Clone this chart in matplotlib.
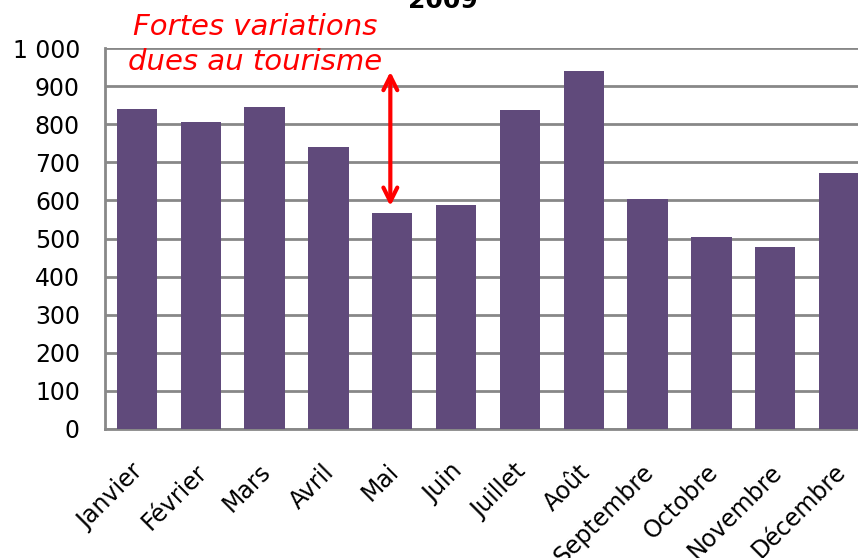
import matplotlib
matplotlib.use('Agg')
import matplotlib.pyplot as plt
from matplotlib.transforms import ScaledTranslation

months = ['Janvier', 'Février', 'Mars', 'Avril', 'Mai', 'Juin', 'Juillet',
          'Août', 'Septembre', 'Octobre', 'Novembre', 'Décembre']
values = [840, 807, 845, 741, 566, 589, 836, 940, 604, 505, 478, 671]
yticks = [0, 100, 200, 300, 400, 500, 600, 700, 800, 900, 1000]
ytick_labels = ['0', '100', '200', '300', '400', '500', '600', '700', '800', '900', '1 000']

plt.rcParams['font.family'] = ['DejaVu Sans']

W, H = 858, 558
fig = plt.figure(figsize=(W / 100, H / 100), dpi=100)
# axes runs past the right edge of the figure, like the cropped original
ax = fig.add_axes([105 / W, 1 - 429 / H, 766 / W, 381 / H])

x = range(len(months))
ax.bar(x, values, width=0.63, color='#604a7b', zorder=3)

ax.set_xlim(-0.5, 11.5)
ax.set_ylim(0, 1000)
ax.set_yticks(yticks)
ax.set_yticklabels(ytick_labels, fontsize=17)
ax.set_xticks(list(x))
ax.set_xticklabels(months, fontsize=17, rotation=45, ha='right',
                   rotation_mode='anchor')
ax.tick_params(length=0)
ax.tick_params(axis='y', pad=18)
ax.tick_params(axis='x', pad=22)

# nudge the month labels a little to the left
shift = ScaledTranslation(-6 / 100, 0, fig.dpi_scale_trans)
for lab in ax.get_xticklabels():
    lab.set_transform(lab.get_transform() + shift)

ax.yaxis.grid(True, color='#888888', linewidth=2, zorder=0)
for side in ['top', 'right']:
    ax.spines[side].set_visible(False)
for side in ['left', 'bottom']:
    ax.spines[side].set_color('#888888')
    ax.spines[side].set_linewidth(2)

fig.text(443 / W, 1 - 8 / H, '2009', fontsize=18, fontweight='bold',
         ha='center', va='baseline')

ax.annotate('', xy=(3.97, 585), xytext=(3.97, 938),
            arrowprops=dict(arrowstyle='<->', color='#ff0000', lw=3,
                            mutation_scale=25, shrinkA=0, shrinkB=0))
fig.text(255 / W, 1 - 35 / H, 'Fortes variations', fontsize=21,
         style='italic', color='#ff0000', ha='center', va='baseline')
fig.text(255 / W, 1 - 70 / H, 'dues au tourisme', fontsize=21,
         style='italic', color='#ff0000', ha='center', va='baseline')

fig.savefig('out.png', dpi=100)
